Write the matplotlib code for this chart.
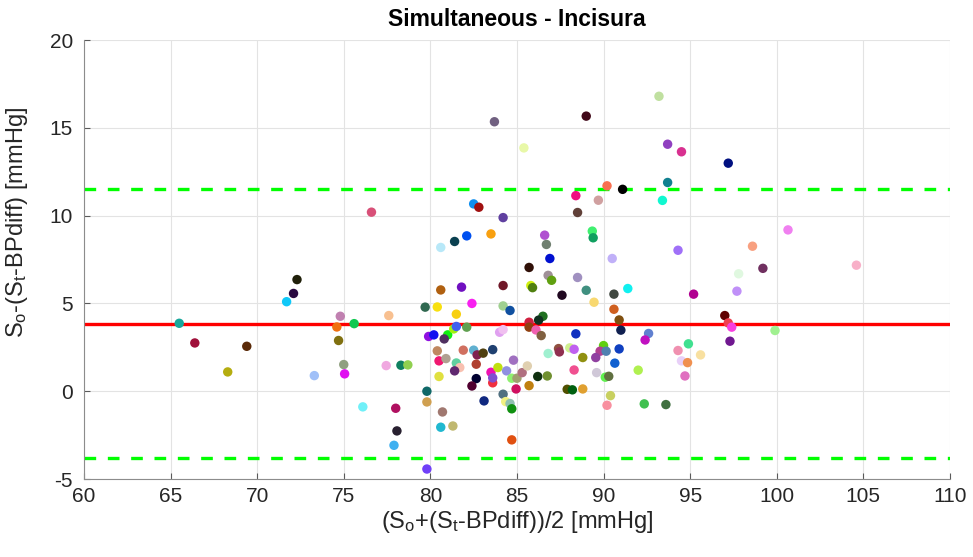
import matplotlib
matplotlib.use("Agg")
import matplotlib.pyplot as plt

# Bland-Altman data: mean of methods (x) vs difference (y)
mean_vals = [65.5, 66.4, 68.3, 69.4, 71.7, 72.1, 72.3, 73.3, 76.6, 83.7,
             85.4, 82.5, 82.8, 84.2, 83.5, 82.1, 81.4, 80.6, 86.6, 86.7,
             86.9, 85.7, 86.8, 85.8, 85.9, 84.2, 80.6, 81.8, 82.4, 79.7,
             80.4, 81.5, 84.2, 84.6, 74.8, 74.6, 75.6, 77.6, 74.7, 75.0,
             75.05, 77.45, 78.3, 78.7, 76.1, 78.0, 78.07, 77.9, 79.8, 79.8,
             79.8, 80.7, 80.6, 81.3, 79.9, 80.2, 81.0, 80.8, 81.35, 81.5,
             82.1, 80.4, 80.5, 80.9, 81.5, 81.7, 81.4, 80.5, 81.9, 82.5,
             82.7, 83.05, 83.6, 82.65, 82.65, 82.4, 83.1, 83.5, 83.6, 83.6,
             83.9, 84.4, 84.8, 84.7, 85.0, 84.95, 85.3, 85.6, 85.7, 86.2,
             86.75, 86.8, 84.2, 84.35, 84.6, 84.7, 84.7, 84.0, 84.2, 85.7,
             85.7, 86.1, 86.4, 86.5, 86.25, 89.0, 93.2, 93.7, 94.5, 97.2,
             90.2, 91.1, 93.7, 93.4, 88.4, 89.7, 88.5, 89.35, 89.4, 90.5,
             94.3, 98.6, 97.8, 88.5, 87.0, 89.0, 87.6, 89.45, 90.6, 91.4,
             90.6, 90.9, 91.0, 88.4, 95.2, 97.7, 97.0, 97.2, 97.4, 97.3,
             92.6, 92.4, 94.3, 94.9, 95.6, 94.5, 94.85, 94.7, 87.4, 87.45,
             88.05, 88.3, 88.8, 88.3, 87.9, 88.2, 88.8, 90.0, 89.8, 89.55,
             90.15, 90.9, 90.65, 89.6, 90.1, 90.3, 92.0, 90.4, 90.2, 92.35,
             93.6, 99.2, 100.65, 104.6, 99.9]
diff_vals = [3.87, 2.75, 1.10, 2.56, 5.10, 5.57, 6.36, 0.89, 10.20, 15.35,
             13.86, 10.67, 10.48, 9.89, 8.96, 8.85, 8.53, 8.19, 8.89, 8.36,
             7.56, 7.05, 6.60, 6.02, 5.90, 6.02, 5.77, 5.93, 5.00, 4.79,
             4.80, 4.39, 4.86, 4.60, 4.27, 3.66, 3.85, 4.31, 2.89, 1.52,
             0.99, 1.46, 1.48, 1.50, -0.89, -0.97, -2.26, -3.08, -4.43, 0.00,
             -0.61, -1.18, -2.05, -1.98, 3.12, 3.21, 3.21, 2.98, 3.55, 3.69,
             3.65, 2.30, 1.73, 1.86, 1.61, 1.35, 1.16, 0.84, 2.34, 2.34,
             2.07, 2.17, 2.37, 1.54, 0.72, 0.30, -0.55, 1.08, 0.48, 0.76,
             1.35, 1.16, 1.77, 0.74, 0.74, 0.13, 1.06, 1.44, 0.32, 0.84,
             0.87, 2.15, -0.17, -0.59, -0.70, -1.00, -2.77, 3.36, 3.51, 3.93,
             3.65, 3.49, 3.17, 4.27, 4.05, 15.67, 16.80, 14.07, 13.64, 12.99,
             11.70, 11.50, 11.89, 10.87, 11.14, 10.88, 10.18, 9.12, 8.74, 7.56,
             8.03, 8.26, 6.69, 6.48, 6.32, 5.75, 5.47, 5.07, 5.53, 5.85,
             4.67, 4.06, 3.48, 3.27, 5.53, 5.70, 4.31, 3.89, 3.65, 2.85,
             3.29, 2.92, 2.32, 2.70, 2.07, 1.73, 1.63, 0.87, 2.43, 2.24,
             2.47, 2.39, 1.92, 1.21, 0.11, 0.08, 0.13, 2.60, 2.28, 1.92,
             2.28, 2.41, 1.60, 1.06, 0.80, 0.85, 1.20, -0.25, -0.80, -0.72,
             -0.76, 7.00, 9.19, 7.18, 3.46]
point_colors = ['#1aa89c', '#a0103a', '#b5ad10', '#5a2a08', '#10c8f8', '#2a0a40', '#20200a', '#a0c0f8', '#d85078', '#706080',
                '#e8f8a8', '#1090f0', '#a01010', '#6040a0', '#f8a010', '#0050f0', '#0a4050', '#b8e8f8', '#b050d0', '#708070',
                '#0010d0', '#301008', '#a09098', '#d0f010', '#508010', '#701828', '#b06010', '#7010c0', '#f820f0', '#306850',
                '#f8e010', '#f8d010', '#a0d090', '#1050a0', '#c080b0', '#f07010', '#10c850', '#f8c090', '#807010', '#90a080',
                '#e010f0', '#f0a8e0', '#108060', '#90d050', '#70f0f8', '#b01060', '#282030', '#40b0f0', '#7040f8', '#106868',
                '#d0a050', '#a07870', '#20b8d0', '#c0b870', '#9010e0', '#1010f0', '#10f010', '#503060', '#a0f010', '#4060f0',
                '#60a050', '#c08860', '#f01870', '#b0a090', '#60d0a0', '#f8c0b0', '#602870', '#e0e040', '#d07060', '#60b0d0',
                '#802050', '#504010', '#204070', '#b04030', '#000030', '#500030', '#102880', '#f010b0', '#f03040', '#8050d0',
                '#c0e010', '#9090e0', '#a070c0', '#90f070', '#a0a070', '#d01060', '#b07080', '#e0d0b0', '#c08010', '#103010',
                '#709030', '#a0f0d0', '#507080', '#f0f080', '#90c0b0', '#109010', '#e05010', '#e0a0f0', '#f0c0f0', '#d02040',
                '#904010', '#f060b0', '#806040', '#207020', '#103020', '#400818', '#c0e0a0', '#9040c0', '#d83090', '#001080',
                '#f87050', '#000000', '#108090', '#10f8d0', '#f01080', '#d0a0a0', '#604038', '#40f070', '#10a060', '#c0b0f8',
                '#a070f8', '#f8a080', '#e0f8e0', '#a090c0', '#60a010', '#409080', '#200820', '#f8d870', '#404840', '#10f0f0',
                '#d06020', '#805010', '#102050', '#1030c0', '#b00090', '#c090f8', '#600000', '#f04050', '#f840e0', '#701890',
                '#6080d0', '#c010c0', '#f090b0', '#40e090', '#f8e0a0', '#e8d0f8', '#f09050', '#e070c0', '#905040', '#903050',
                '#d0f090', '#c060f0', '#909010', '#f05090', '#505000', '#006010', '#e0a030', '#60d010', '#b04090', '#9040a0',
                '#5080b0', '#1040c0', '#1060d0', '#d0c8d8', '#60f050', '#607040', '#b0f050', '#c8d060', '#f890a0', '#40c050',
                '#407040', '#703060', '#f080f0', '#f8b0c8', '#a0f090']

bias = 3.84
upper_loa = 11.51
lower_loa = -3.83

plt.rcParams['font.family'] = ['Liberation Sans', 'DejaVu Sans']
plt.rcParams['mathtext.fontset'] = 'custom'
plt.rcParams['mathtext.rm'] = 'Liberation Sans'
plt.rcParams['mathtext.it'] = 'Liberation Sans'
plt.rcParams['axes.unicode_minus'] = False

fig = plt.figure(figsize=(9.73, 5.57), dpi=100)
ax = fig.add_axes([0.0863, 0.14, 0.89, 0.788])

ax.scatter(mean_vals, diff_vals, s=46, c=point_colors, edgecolors='none', zorder=3)
ax.axhline(bias, color='#ff0000', lw=2.4, zorder=2)
ax.axhline(upper_loa, color='#00ff00', lw=2.4, linestyle=(0, (3.5, 3.5)), zorder=2)
ax.axhline(lower_loa, color='#00ff00', lw=2.4, linestyle=(0, (3.5, 3.5)), zorder=2)

ax.set_xlim(60, 110)
ax.set_ylim(-5, 20)
ax.set_xticks(range(60, 111, 5))
ax.set_yticks(range(-5, 21, 5))
ax.grid(True, color='#e3e3e3', lw=0.8)
ax.set_axisbelow(True)

for side in ['top', 'right']:
    ax.spines[side].set_visible(False)
for side in ['left', 'bottom']:
    ax.spines[side].set_color('#8c8c8c')
ax.tick_params(direction='in', length=4, labelsize=15, colors='#262626',
               color='#5a5a5a')
ax.tick_params(axis='y', pad=8)
ax.tick_params(axis='x', pad=6)

ax.set_title('Simultaneous - Incisura', fontsize=16.5, fontweight='bold', pad=10)
ax.set_xlabel(r'(S$_\mathrm{o}$+(S$_\mathrm{t}$-BPdiff))/2 [mmHg]', fontsize=17,
              color='#262626', labelpad=2)
ax.set_ylabel(r'S$_\mathrm{o}$-(S$_\mathrm{t}$-BPdiff) [mmHg]', fontsize=17,
              color='#262626')
ax.yaxis.set_label_coords(-0.062, 0.585)

fig.savefig('out.png', dpi=100)
